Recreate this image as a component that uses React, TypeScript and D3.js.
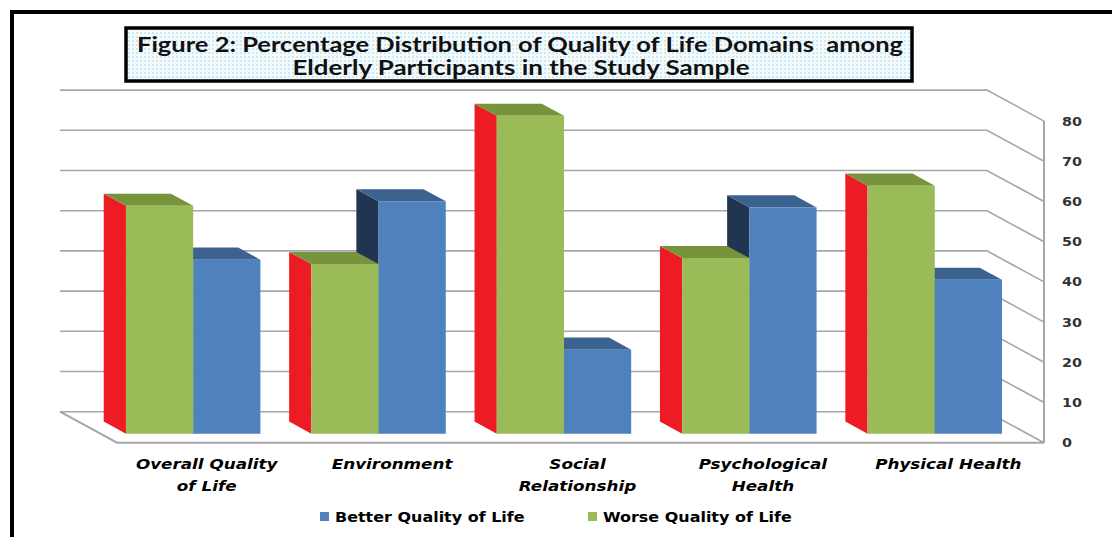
import * as d3 from 'd3';

const categories = ['Overall Quality of Life', 'Environment', 'Social Relationship', 'Psychological Health', 'Physical Health'];
const labelLines = [['Overall Quality', 'of Life'], ['Environment'], ['Social', 'Relationship'], ['Psychological', 'Health'], ['Physical Health']];
const worseValues = [56.7, 42.2, 79.1, 43.7, 61.7];
const betterValues = [43.3, 57.8, 20.9, 56.3, 38.3];
const ticks = [0, 10, 20, 30, 40, 50, 60, 70, 80];
const seriesNames = ['Better Quality of Life', 'Worse Quality of Life'];

const W = 1112;
const H = 537;
// oblique depth offset of the whole floor
const DX = 57;
const DY = 31;
// bars sit between these depth fractions
const D_BACK = 0.32;
const D_FRONT = 0.71;
const SX = 1.2; // the picture is a bit stretched horizontally

const COLORS = {
  worse: { front: '#9bbb59', top: '#77933c', side: '#ed1c24' },
  better: { front: '#4f81bd', top: '#3c6390', side: '#1f3550' },
};

const x = d3.scaleBand<string>().domain(categories).range([60, 987]).paddingInner(0.275).paddingOuter(0.1375);
const sub = d3.scaleBand<string>().domain(['worse', 'better']).range([0, x.bandwidth()]);
const y = d3.scaleLinear().domain([0, 80]).range([411.7, 90.1]);

const proj = (px: number, v: number, d: number): [number, number] => [px + DX * d, y(v) + DY * d];
const pts = (arr: [number, number][]) => arr.map(p => p.join(',')).join(' ');

function Bar({ x0, w, v, c }: { x0: number; w: number; v: number; c: { front: string; top: string; side: string } }) {
  const side = [proj(x0, 0, D_BACK), proj(x0, v, D_BACK), proj(x0, v, D_FRONT), proj(x0, 0, D_FRONT)];
  const top = [proj(x0, v, D_BACK), proj(x0 + w, v, D_BACK), proj(x0 + w, v, D_FRONT), proj(x0, v, D_FRONT)];
  const front = [proj(x0, v, D_FRONT), proj(x0 + w, v, D_FRONT), proj(x0 + w, 0, D_FRONT), proj(x0, 0, D_FRONT)];
  return (
    <g>
      <polygon points={pts(side)} fill={c.side} />
      <polygon points={pts(top)} fill={c.top} />
      <polygon points={pts(front)} fill={c.front} />
    </g>
  );
}

const stretched = (tx: number, ty: number) => `translate(${tx},${ty}) scale(${SX},1)`;

export default function App() {
  const [x0, x1] = x.range();
  const gridColor = '#a6a6a6';
  const labelFont = { fontFamily: '"DejaVu Sans", Verdana, sans-serif', fontWeight: 'bold' as const };

  return (
    <svg width={W} height={H} style={{ display: 'block', position: 'absolute', left: 0, top: 0 }}>
      <defs>
        <pattern id="dots" width="4" height="4" patternUnits="userSpaceOnUse">
          <rect width="4" height="4" fill="#f4fbfd" />
          <rect width="2" height="2" fill="#cfe9f2" />
        </pattern>
      </defs>
      <rect width={W} height={H} fill="#fff" />
      <rect x={12} y={12} width={W + 20} height={H + 20} fill="none" stroke="#000" strokeWidth={4} />

      {/* back wall grid + right wall */}
      {ticks.map(t => (
        <polyline key={t} points={pts([[x0, y(t)], [x1, y(t)], [x1 + DX, y(t) + DY]])}
          fill="none" stroke={gridColor} strokeWidth={1.6} />
      ))}
      {/* floor */}
      <polyline points={pts([[x0, y(0)], [x0 + DX, y(0) + DY], [x1 + DX, y(0) + DY]])} fill="none" stroke={gridColor} strokeWidth={2} />
      <line x1={x1 + DX} x2={x1 + DX} y1={y(80) + DY} y2={y(0) + DY} stroke={gridColor} strokeWidth={2} />

      {/* bars: blue first so green front covers its hidden side */}
      {categories.map((cat, i) => {
        const bx = x(cat)!;
        return (
          <g key={cat}>
            <Bar x0={bx + sub('better')!} w={sub.bandwidth()} v={betterValues[i]} c={COLORS.better} />
            <Bar x0={bx + sub('worse')!} w={sub.bandwidth()} v={worseValues[i]} c={COLORS.worse} />
          </g>
        );
      })}

      {/* value axis labels */}
      {ticks.map(t => (
        <text key={t} transform={stretched(x1 + DX + 18, y(t) + DY + 4.5)} fontSize={12} fill="#333" {...labelFont}>{t}</text>
      ))}

      {/* category labels */}
      {categories.map((cat, i) => {
        const cx = x(cat)! + x.bandwidth() / 2 + DX;
        return labelLines[i].map((ln, j) => (
          <text key={cat + j} transform={stretched(cx - 3, 469 + j * 22)} textAnchor="middle" fontSize={14}
            fontStyle="italic" fill="#000" {...labelFont}>{ln}</text>
        ));
      })}

      {/* legend */}
      {seriesNames.map((s, i) => {
        const lx = i === 0 ? 320 : 588;
        return (
          <g key={s}>
            <rect x={lx} y={512} width={9} height={9} fill={i === 0 ? COLORS.better.front : COLORS.worse.front} />
            <text transform={stretched(lx + 15, 522)} fontSize={13.3} fill="#000" {...labelFont}>{s}</text>
          </g>
        );
      })}

      {/* title box */}
      <rect x={126} y={28} width={786} height={53} fill="url(#dots)" stroke="#000" strokeWidth={3.5} />
      <text x={520} y={52} textAnchor="middle" fontFamily="Lato, 'Open Sans', sans-serif" fontWeight="bold" fontSize={20}
        textLength={766} lengthAdjust="spacingAndGlyphs" fill="#111" style={{ whiteSpace: 'pre' }}>Figure 2: Percentage Distribution of Quality of Life Domains  among</text>
      <text x={521} y={75} textAnchor="middle" fontFamily="Lato, 'Open Sans', sans-serif" fontWeight="bold" fontSize={20}
        textLength={457} lengthAdjust="spacingAndGlyphs" fill="#111">Elderly Participants in the Study Sample</text>
    </svg>
  );
}
